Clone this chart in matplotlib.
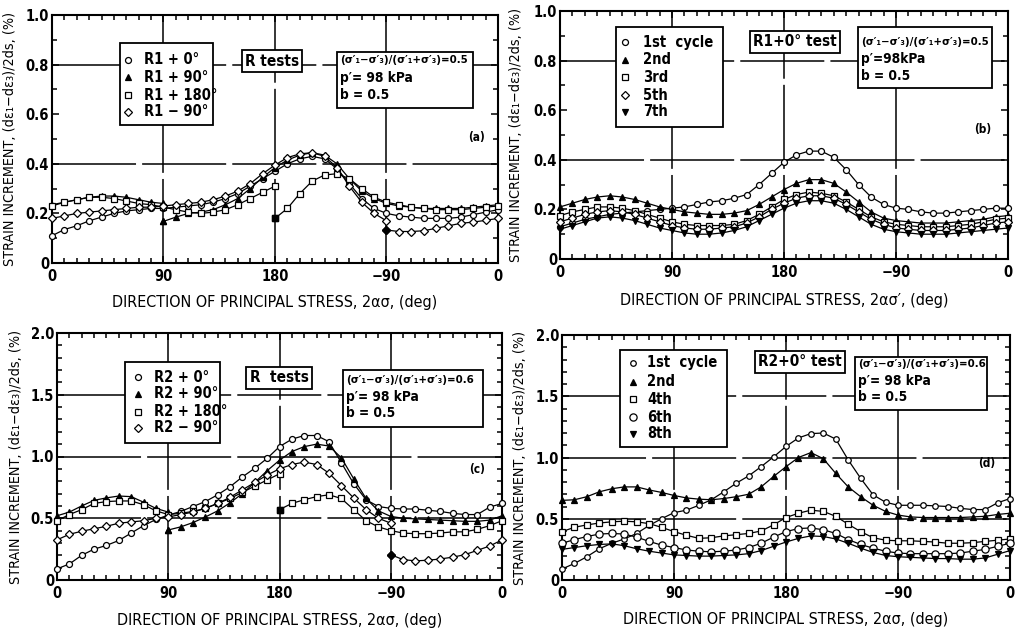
import matplotlib
matplotlib.use('Agg')
import matplotlib.pyplot as plt
from matplotlib.patches import Rectangle
import numpy as np

plt.rcParams['font.family'] = ['DejaVu Sans']
plt.rcParams['font.stretch'] = 'condensed'
plt.rcParams['font.weight'] = 'bold'

# ---------------- data ----------------
xtick_pos = [0, 90, 180, 270, 360]
xtick_labels = ['0', '90', '180', '\u221290', '0']

# values in test order: start angle, start+10, ..., start+360
a_labels = ['R1 + 0\u00b0', 'R1 + 90\u00b0', 'R1 + 180\u00b0', 'R1 \u2212 90\u00b0']
a_starts = [0, 90, 180, 270]
a_r0 = [0.11, 0.135, 0.15, 0.17, 0.185, 0.20, 0.21, 0.215, 0.22, 0.22, 0.225, 0.23, 0.235,
        0.245, 0.26, 0.28, 0.31, 0.34, 0.37, 0.40, 0.42, 0.43, 0.42, 0.38, 0.32, 0.26, 0.22,
        0.20, 0.19, 0.185, 0.18, 0.18, 0.18, 0.185, 0.195, 0.205, 0.215]
a_r90 = [0.168, 0.185, 0.20, 0.205, 0.215, 0.235, 0.26, 0.30, 0.345, 0.385, 0.415, 0.435,
         0.445, 0.435, 0.40, 0.34, 0.29, 0.26, 0.24, 0.23, 0.225, 0.22, 0.22, 0.22, 0.22,
         0.225, 0.23, 0.235, 0.245, 0.255, 0.265, 0.27, 0.27, 0.265, 0.255, 0.245, 0.24]
a_r180 = [0.18, 0.22, 0.28, 0.33, 0.355, 0.36, 0.34, 0.30, 0.265, 0.245, 0.235, 0.225, 0.22,
          0.215, 0.215, 0.215, 0.22, 0.225, 0.23, 0.245, 0.255, 0.265, 0.265, 0.26, 0.25,
          0.24, 0.235, 0.225, 0.215, 0.205, 0.20, 0.205, 0.215, 0.235, 0.26, 0.285, 0.31]
a_rm90 = [0.133, 0.127, 0.127, 0.13, 0.14, 0.15, 0.16, 0.165, 0.172, 0.18, 0.19, 0.20, 0.205,
          0.21, 0.215, 0.22, 0.225, 0.225, 0.23, 0.235, 0.24, 0.245, 0.255, 0.27, 0.29, 0.32,
          0.36, 0.395, 0.425, 0.44, 0.445, 0.43, 0.385, 0.31, 0.245, 0.20, 0.17]

b_labels = ['1st  cycle', '2nd', '3rd', '5th', '7th']
b_starts = [0, 0, 0, 0, 0]
b_c1 = [0.13, 0.145, 0.16, 0.17, 0.18, 0.185, 0.19, 0.195, 0.20, 0.205, 0.21, 0.22, 0.23,
        0.235, 0.245, 0.26, 0.30, 0.345, 0.39, 0.42, 0.435, 0.435, 0.41, 0.36, 0.30, 0.25,
        0.22, 0.205, 0.20, 0.19, 0.185, 0.185, 0.19, 0.195, 0.20, 0.205, 0.205]
b_c2 = [0.21, 0.225, 0.24, 0.25, 0.255, 0.25, 0.24, 0.225, 0.21, 0.20, 0.19, 0.185, 0.18,
        0.18, 0.185, 0.195, 0.22, 0.25, 0.28, 0.305, 0.32, 0.32, 0.305, 0.27, 0.23, 0.19,
        0.165, 0.155, 0.15, 0.145, 0.145, 0.145, 0.15, 0.155, 0.16, 0.17, 0.175]
b_c3 = [0.175, 0.19, 0.20, 0.21, 0.21, 0.205, 0.195, 0.18, 0.165, 0.15, 0.14, 0.135, 0.135,
        0.135, 0.14, 0.155, 0.18, 0.21, 0.24, 0.26, 0.27, 0.265, 0.255, 0.23, 0.20, 0.17,
        0.15, 0.14, 0.135, 0.13, 0.13, 0.13, 0.135, 0.14, 0.15, 0.16, 0.165]
b_c5 = [0.15, 0.165, 0.18, 0.19, 0.195, 0.19, 0.18, 0.165, 0.15, 0.135, 0.125, 0.12, 0.12,
        0.125, 0.13, 0.145, 0.17, 0.20, 0.225, 0.245, 0.255, 0.255, 0.245, 0.22, 0.19, 0.16,
        0.14, 0.125, 0.12, 0.115, 0.115, 0.115, 0.12, 0.125, 0.135, 0.145, 0.15]
b_c7 = [0.12, 0.135, 0.15, 0.165, 0.17, 0.165, 0.155, 0.14, 0.125, 0.115, 0.105, 0.10, 0.10,
        0.105, 0.115, 0.13, 0.155, 0.18, 0.205, 0.225, 0.235, 0.235, 0.225, 0.20, 0.17, 0.14,
        0.12, 0.11, 0.105, 0.10, 0.10, 0.10, 0.105, 0.11, 0.115, 0.12, 0.125]

c_labels = ['R2 + 0\u00b0', 'R2 + 90\u00b0', 'R2 + 180\u00b0', 'R2 \u2212 90\u00b0']
c_starts = [0, 90, 180, 270]
c_r0 = [0.09, 0.13, 0.20, 0.25, 0.28, 0.32, 0.38, 0.44, 0.49, 0.525, 0.555, 0.595, 0.635,
        0.69, 0.755, 0.835, 0.905, 0.985, 1.08, 1.14, 1.17, 1.17, 1.12, 0.95, 0.78, 0.65,
        0.595, 0.58, 0.575, 0.575, 0.565, 0.555, 0.54, 0.53, 0.53, 0.59, 0.62]
c_r90 = [0.405, 0.43, 0.465, 0.51, 0.56, 0.625, 0.70, 0.79, 0.885, 0.97, 1.04, 1.08, 1.10,
         1.085, 0.99, 0.82, 0.66, 0.56, 0.515, 0.50, 0.495, 0.49, 0.485, 0.48, 0.475, 0.475,
         0.485, 0.52, 0.55, 0.60, 0.645, 0.665, 0.68, 0.675, 0.63, 0.58, 0.55]
c_r180 = [0.57, 0.62, 0.65, 0.675, 0.69, 0.66, 0.57, 0.48, 0.43, 0.40, 0.38, 0.375, 0.375,
          0.38, 0.39, 0.39, 0.41, 0.44, 0.48, 0.53, 0.57, 0.62, 0.635, 0.64, 0.64, 0.61,
          0.56, 0.53, 0.54, 0.555, 0.58, 0.62, 0.66, 0.71, 0.76, 0.81, 0.86]
c_rm90 = [0.205, 0.165, 0.155, 0.16, 0.17, 0.185, 0.205, 0.24, 0.275, 0.325, 0.37, 0.395,
          0.415, 0.435, 0.46, 0.47, 0.48, 0.50, 0.51, 0.53, 0.55, 0.58, 0.62, 0.67, 0.73,
          0.79, 0.85, 0.90, 0.935, 0.955, 0.935, 0.865, 0.765, 0.665, 0.57, 0.50, 0.46]

d_labels = ['1st  cycle', '2nd', '4th', '6th', '8th']
d_starts = [0, 0, 0, 0, 0]
d_c1 = [0.09, 0.135, 0.19, 0.255, 0.30, 0.335, 0.38, 0.445, 0.50, 0.55, 0.57, 0.61, 0.655,
        0.72, 0.79, 0.85, 0.925, 1.005, 1.09, 1.16, 1.195, 1.20, 1.15, 0.98, 0.83, 0.695,
        0.635, 0.61, 0.61, 0.61, 0.605, 0.60, 0.585, 0.575, 0.575, 0.63, 0.665]
d_c2 = [0.65, 0.655, 0.68, 0.72, 0.745, 0.76, 0.76, 0.735, 0.715, 0.69, 0.67, 0.66, 0.655,
        0.665, 0.68, 0.70, 0.76, 0.845, 0.925, 1.00, 1.04, 0.99, 0.87, 0.76, 0.68, 0.61,
        0.56, 0.53, 0.515, 0.51, 0.51, 0.51, 0.51, 0.515, 0.52, 0.535, 0.545]
d_c4 = [0.395, 0.43, 0.45, 0.465, 0.475, 0.48, 0.475, 0.46, 0.43, 0.395, 0.365, 0.34, 0.345,
        0.36, 0.37, 0.38, 0.40, 0.45, 0.51, 0.545, 0.57, 0.56, 0.52, 0.455, 0.395, 0.345,
        0.325, 0.32, 0.32, 0.315, 0.31, 0.30, 0.30, 0.305, 0.315, 0.325, 0.335]
d_c6 = [0.30, 0.33, 0.355, 0.375, 0.38, 0.375, 0.35, 0.315, 0.285, 0.265, 0.245, 0.235, 0.23,
        0.235, 0.245, 0.265, 0.30, 0.35, 0.395, 0.42, 0.425, 0.41, 0.38, 0.33, 0.29, 0.26,
        0.235, 0.22, 0.215, 0.215, 0.215, 0.215, 0.22, 0.235, 0.25, 0.275, 0.30]
d_c8 = [0.25, 0.265, 0.28, 0.29, 0.295, 0.28, 0.255, 0.235, 0.22, 0.205, 0.20, 0.195, 0.195,
        0.20, 0.205, 0.215, 0.24, 0.275, 0.31, 0.34, 0.36, 0.355, 0.335, 0.30, 0.26, 0.225,
        0.20, 0.19, 0.185, 0.18, 0.175, 0.175, 0.17, 0.17, 0.18, 0.21, 0.24]

# ---------------- style ----------------
W, H = 1020, 628
fig = plt.figure(figsize=(W / 100, H / 100), dpi=100)
fig.patch.set_facecolor('white')

FS_TICK = 10.5
FS_XLAB = 11.5
FS_YLAB = 10.3
FS_LEG = 10.5
FS_TAG = 11
FS_COND1 = 8.2
FS_COND = 9.8

M_A = [('o', False, 4.3), ('^', True, 4.3), ('s', False, 4.0), ('D', False, 3.7)]
M_B = [('o', False, 4.3), ('^', True, 4.3), ('s', False, 4.0), ('D', False, 3.7), ('v', True, 4.3)]
M_D = [('o', False, 4.0), ('^', True, 4.3), ('s', False, 4.3), ('o', False, 5.2), ('v', True, 4.0)]

COND5 = '(\u03c3\u2032\u2081\u2212\u03c3\u2032\u2083)/(\u03c3\u2032\u2081+\u03c3\u2032\u2083)=0.5'
COND6 = '(\u03c3\u2032\u2081\u2212\u03c3\u2032\u2083)/(\u03c3\u2032\u2081+\u03c3\u2032\u2083)=0.6'

# layout in reference pixels
panels = [
    dict(rect=(52, 15, 498, 263), ylim=1.0, ymaj=0.2, ymin=0.1, grid_y=[0.4, 0.8],
         ylabels=['0', '0.2', '0.4', '0.6', '0.8', '1.0'],
         series=[a_r0, a_r90, a_r180, a_rm90], starts=a_starts, labels=a_labels, markers=M_A,
         legbox=(120, 43, 213, 125), legrows=[60, 77, 95, 112], legmx=128, legtx=144,
         tag='R tests', tagpos=(272, 61),
         cond=[COND5, 'p\u2032= 98 kPa', 'b = 0.5'], condbox=(337, 52, 473, 108),
         condrows=[60, 78, 95], condtx=340,
         plabel='(a)', ppos=(477, 137), xlab='DIRECTION OF PRINCIPAL STRESS, 2\u03b1\u03c3, (deg)',
         ylx=17, xly=295),
    dict(rect=(560, 11, 1008, 259), ylim=1.0, ymaj=0.2, ymin=0.1, grid_y=[0.4, 0.8],
         ylabels=['0', '0.2', '0.4', '0.6', '0.8', '1.0'],
         series=[b_c1, b_c2, b_c3, b_c5, b_c7], starts=b_starts, labels=b_labels, markers=M_B,
         legbox=(616, 27, 723, 127), legrows=[42, 60, 77, 95, 112], legmx=625, legtx=643,
         tag='R1+0\u00b0 test', tagpos=(795, 42),
         cond=[COND5, 'p\u2032=98kPa', 'b = 0.5'], condbox=(858, 27, 992, 88),
         condrows=[42, 59, 76], condtx=861,
         plabel='(b)', ppos=(983, 130), xlab='DIRECTION OF PRINCIPAL STRESS, 2\u03b1\u03c3\u2032, (deg)',
         ylx=523, xly=293),
    dict(rect=(57, 333, 502, 580), ylim=2.0, ymaj=0.5, ymin=0.1, grid_y=[0.5, 1.0, 1.5],
         ylabels=['0', '0.5', '1.0', '1.5', '2.0'],
         series=[c_r0, c_r90, c_r180, c_rm90], starts=c_starts, labels=c_labels, markers=M_A,
         legbox=(125, 362, 220, 443), legrows=[377, 394, 412, 428], legmx=138, legtx=154,
         tag='R  tests', tagpos=(279, 378),
         cond=[COND6, 'p\u2032= 98 kPa', 'b = 0.5'], condbox=(343, 370, 483, 427),
         condrows=[380, 397, 413], condtx=346,
         plabel='(c)', ppos=(477, 470), xlab='DIRECTION OF PRINCIPAL STRESS, 2\u03b1\u03c3, (deg)',
         ylx=23, xly=613),
    dict(rect=(562, 335, 1010, 580), ylim=2.0, ymaj=0.5, ymin=0.1, grid_y=[0.5, 1.0, 1.5],
         ylabels=['0', '0.5', '1.0', '1.5', '2.0'],
         series=[d_c1, d_c2, d_c4, d_c6, d_c8], starts=d_starts, labels=d_labels, markers=M_D,
         legbox=(620, 350, 727, 447), legrows=[363, 382, 399, 417, 434], legmx=633, legtx=647,
         tag='R2+0\u00b0 test', tagpos=(800, 362),
         cond=[COND6, 'p\u2032= 98 kPa', 'b = 0.5'], condbox=(855, 357, 987, 410),
         condrows=[364, 381, 397], condtx=858,
         plabel='(d)', ppos=(987, 463), xlab='DIRECTION OF PRINCIPAL STRESS, 2\u03b1\u03c3, (deg)',
         ylx=527, xly=612),
]


def plot_series(ax, start, vals, marker, filled, ms):
    vals = np.asarray(vals, dtype=float)
    ang = start + 10 * np.arange(len(vals))
    k = (360 - start) // 10
    st = dict(color='black', lw=0.9, marker=marker, ms=ms,
              mfc='black' if filled else 'white', mec='black', mew=0.9,
              clip_on=False, zorder=3)
    ax.plot(ang[:k + 1], vals[:k + 1], **st)
    if start > 0:
        ax.plot(ang[k:] - 360, vals[k:], **st)
        ax.plot([start], [vals[0]], marker=marker, ms=ms + 0.6, color='black',
                ls='none', clip_on=False, zorder=4)


for p in panels:
    l, t, r, b = p['rect']
    ax = fig.add_axes([l / W, 1 - b / H, (r - l) / W, (b - t) / H])

    def fx(x):
        return (x - l) / (r - l)

    def fy(y):
        return (b - y) / (b - t)

    ax.set_xlim(0, 360)
    ax.set_ylim(0, p['ylim'])
    ax.set_xticks(xtick_pos)
    ax.set_xticklabels(xtick_labels, fontsize=FS_TICK)
    ax.set_xticks(np.arange(0, 361, 10), minor=True)
    yt = np.round(np.arange(0, p['ylim'] + 1e-9, p['ymaj']), 2)
    ax.set_yticks(yt)
    ax.set_yticklabels(p['ylabels'], fontsize=FS_TICK)
    ax.set_yticks(np.round(np.arange(0, p['ylim'] + 1e-9, p['ymin']), 2), minor=True)
    ax.tick_params(which='both', direction='in', top=True, right=True, width=1.1)
    ax.tick_params(which='major', length=5)
    ax.tick_params(axis='x', which='major', pad=4)
    ax.tick_params(axis='y', which='major', pad=2)
    ax.tick_params(which='minor', length=3.5)
    for s in ax.spines.values():
        s.set_linewidth(1.5)

    for gy in p['grid_y']:
        ax.axhline(gy, color='black', lw=1.1, ls=(0, (55, 4)), zorder=1)
    for gx in [90, 180, 270]:
        ax.axvline(gx, color='black', lw=1.1, ls=(0, (55, 4)), zorder=1)

    for vals, st, (mk, filled, ms) in zip(p['series'], p['starts'], p['markers']):
        plot_series(ax, st, vals, mk, filled, ms)

    # legend box drawn by hand
    x0, y0, x1, y1 = p['legbox']
    ax.add_patch(Rectangle((fx(x0), fy(y1)), fx(x1) - fx(x0), fy(y0) - fy(y1),
                           transform=ax.transAxes, fc='white', ec='black', lw=1.3,
                           zorder=6, clip_on=False))
    for ry, lab, (mk, filled, ms) in zip(p['legrows'], p['labels'], p['markers']):
        ax.plot([fx(p['legmx'])], [fy(ry)], transform=ax.transAxes, ls='none', marker=mk,
                ms=ms, color='black', mfc='black' if filled else 'white', mec='black',
                mew=0.9, zorder=7, clip_on=False)
        ax.text(fx(p['legtx']), fy(ry), lab, transform=ax.transAxes, ha='left',
                va='center', fontsize=FS_LEG, zorder=7)

    # condition box
    x0, y0, x1, y1 = p['condbox']
    ax.add_patch(Rectangle((fx(x0), fy(y1)), fx(x1) - fx(x0), fy(y0) - fy(y1),
                           transform=ax.transAxes, fc='white', ec='black', lw=1.3,
                           zorder=6, clip_on=False))
    for i, (ry, line) in enumerate(zip(p['condrows'], p['cond'])):
        ax.text(fx(p['condtx']), fy(ry), line, transform=ax.transAxes, ha='left',
                va='center', fontsize=FS_COND1 if i == 0 else FS_COND, zorder=7)

    ax.text(fx(p['tagpos'][0]), fy(p['tagpos'][1]), p['tag'], transform=ax.transAxes,
            ha='center', va='center', fontsize=FS_TAG, zorder=6,
            bbox=dict(boxstyle='square,pad=0.22', fc='white', ec='black', lw=1.3))
    ax.text(fx(p['ppos'][0]), fy(p['ppos'][1]), p['plabel'], transform=ax.transAxes,
            ha='center', va='center', fontsize=8.5, zorder=6)

    ax.set_xlabel(p['xlab'], fontsize=FS_XLAB)
    ax.xaxis.set_label_coords(0.5, fy(p['xly']))
    ax.set_ylabel('STRAIN INCREMENT, (d\u03b5\u2081\u2212d\u03b5\u2083)/2ds, (%)', fontsize=FS_YLAB)
    ax.yaxis.set_label_coords(fx(p['ylx']), 0.5)

fig.savefig('out.png', dpi=100, facecolor='white')
